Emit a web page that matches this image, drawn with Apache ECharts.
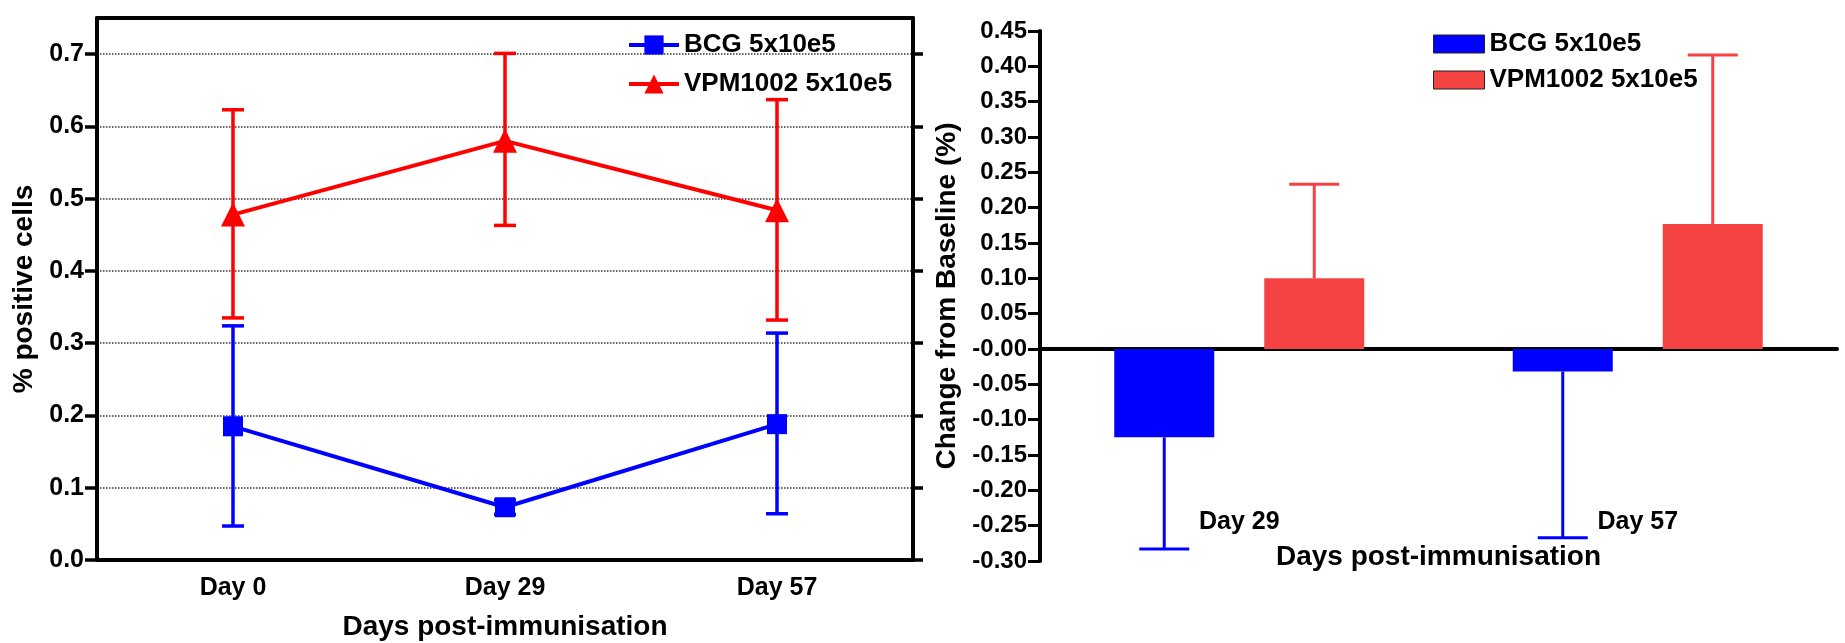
<!DOCTYPE html>
<html><head><meta charset="utf-8">
<script src="https://cdn.jsdelivr.net/npm/echarts@6/dist/echarts.min.js"></script>
<style>html,body{margin:0;padding:0;background:#fff}#c{width:1845px;height:643px}</style>
</head><body><div id="c"></div>
<script>
// ---- data: left panel (line chart with error bars) ----
const lineCategories = ['Day 0', 'Day 29', 'Day 57'];
const bcgMean = [0.185, 0.073, 0.188];
const bcgLow  = [0.047, 0.063, 0.064];
const bcgHigh = [0.324, 0.083, 0.314];
const vpmMean = [0.478, 0.580, 0.484];
const vpmLow  = [0.335, 0.463, 0.332];
const vpmHigh = [0.623, 0.701, 0.637];
const leftTickValues = [0, 0.1, 0.2, 0.3, 0.4, 0.5, 0.6, 0.7];

// ---- data: right panel (bar chart, change from baseline) ----
const barCategories = ['Day 29', 'Day 57'];
const bcgChange    = [-0.125, -0.032];
const bcgChangeErr = [0.158, 0.235];
const vpmChange    = [0.100, 0.177];
const vpmChangeErr = [0.133, 0.239];

const seriesNames = ['BCG 5x10e5', 'VPM1002 5x10e5'];

// ---- styles ----
const FONT = "'Liberation Sans', Arial, Helvetica, sans-serif";
const BLUE = '#0000FF', RED = '#FF0000', BAR_RED = '#F54343';
const BAR_W = 100, BAR_GAP = 0.5;
const txt = (size) => ({ fontSize: size, fontWeight: 'bold', color: '#000', fontFamily: FONT });
const axisLineStyle = { color: '#000', width: 4 };

function leftErr(color) {
  return function (params, api) {
    const i = api.value(0);
    const pLo = api.coord([i, api.value(1)]);
    const pHi = api.coord([i, api.value(2)]);
    const hw = 11;
    const st = { stroke: color, lineWidth: 3.5 };
    return { type: 'group', children: [
      { type: 'line', shape: { x1: pLo[0], y1: pLo[1], x2: pHi[0], y2: pHi[1] }, style: st },
      { type: 'line', shape: { x1: pLo[0] - hw, y1: pLo[1], x2: pLo[0] + hw, y2: pLo[1] }, style: st },
      { type: 'line', shape: { x1: pHi[0] - hw, y1: pHi[1], x2: pHi[0] + hw, y2: pHi[1] }, style: st }
    ]};
  };
}
function barErr(color, side) {
  return function (params, api) {
    const i = api.value(0);
    const off = side * (BAR_W + BAR_W * BAR_GAP) / 2;
    const pA = api.coord([i, api.value(1)]);
    const pB = api.coord([i, api.value(2)]);
    const x = pA[0] + off;
    const hw = BAR_W / 4;
    const st = { stroke: color, lineWidth: 3 };
    return { type: 'group', children: [
      { type: 'line', shape: { x1: x, y1: pA[1], x2: x, y2: pB[1] }, style: st },
      { type: 'line', shape: { x1: x - hw, y1: pB[1], x2: x + hw, y2: pB[1] }, style: st }
    ]};
  };
}

const chart = echarts.init(document.getElementById('c'), null, { renderer: 'canvas' });
chart.setOption({
  animation: false,
  backgroundColor: '#fff',
  grid: [
    { left: 97, right: 932, top: 18, bottom: 83, outerBoundsMode: 'none' },
    { left: 1040, right: 8, top: 31, bottom: 82, outerBoundsMode: 'none' }
  ],
  legend: [
    { left: 622, top: 27, orient: 'vertical', itemWidth: 50, itemHeight: 24, itemGap: 13,
      selectedMode: false, textStyle: txt(26),
      lineStyle: { width: 4 },
      data: [{ name: seriesNames[0] }, { name: seriesNames[1] }] },
    { left: 1428, top: 26, orient: 'vertical', itemWidth: 51, itemHeight: 18, itemGap: 10,
      selectedMode: false, textStyle: txt(26),
      data: [
        { name: seriesNames[0], icon: 'rect', itemStyle: { color: BLUE, borderColor: '#222', borderWidth: 1 } },
        { name: seriesNames[1], icon: 'rect', itemStyle: { color: BAR_RED, borderColor: '#222', borderWidth: 1 } }
      ] }
  ],
  xAxis: [
    { gridIndex: 0, type: 'category', data: lineCategories, position: 'bottom',
      axisLine: { onZero: false, lineStyle: axisLineStyle },
      axisTick: { alignWithLabel: true, length: 11, lineStyle: { color: '#000', width: 4 } },
      axisLabel: Object.assign({ margin: 16 }, txt(25)),
      splitLine: { show: false },
      name: 'Days post-immunisation', nameLocation: 'middle', nameGap: 53, nameMoveOverlap: false,
      nameTextStyle: txt(28) },
    { gridIndex: 0, type: 'category', data: lineCategories, position: 'top',
      axisLine: { onZero: false, lineStyle: axisLineStyle },
      axisTick: { alignWithLabel: true, length: 10, lineStyle: { color: '#000', width: 4 } },
      axisLabel: { show: false }, splitLine: { show: false } },
    { gridIndex: 1, type: 'category', data: barCategories,
      axisLine: { onZero: true, lineStyle: axisLineStyle },
      axisTick: { alignWithLabel: true, length: 9, lineStyle: { color: '#000', width: 3 } },
      axisLabel: { show: false },
      splitLine: { show: false } },
    { gridIndex: 1, type: 'category', data: barCategories, position: 'bottom',
      axisLine: { show: false, onZero: false },
      axisTick: { show: false },
      axisLabel: Object.assign({ inside: true, margin: 26 }, txt(25)),
      splitLine: { show: false },
      name: 'Days post-immunisation', nameLocation: 'middle', nameGap: -18, nameMoveOverlap: false,
      nameTextStyle: txt(28) }
  ],
  yAxis: [
    { gridIndex: 0, type: 'value', min: 0, max: 0.75, interval: 0.1,
      axisLine: { show: true, lineStyle: axisLineStyle },
      axisTick: { show: true, length: 12, customValues: leftTickValues, lineStyle: { color: '#000', width: 3.5 } },
      axisLabel: Object.assign({ margin: 13, customValues: leftTickValues, formatter: v => v.toFixed(1) }, txt(25)),
      splitLine: { show: true, lineStyle: { type: 'dotted', color: '#333', width: 1.5 } },
      name: '% positive cells', nameLocation: 'middle', nameGap: 59, nameMoveOverlap: false,
      nameTextStyle: txt(28) },
    { gridIndex: 0, type: 'value', position: 'right', min: 0, max: 0.75, interval: 0.1,
      axisLine: { show: true, onZero: false, lineStyle: axisLineStyle },
      axisTick: { show: true, length: 10, customValues: leftTickValues, lineStyle: { color: '#000', width: 3.5 } },
      axisLabel: { show: false }, splitLine: { show: false } },
    { gridIndex: 1, type: 'value', min: -0.3, max: 0.45, interval: 0.05,
      axisLine: { show: true, onZero: false, lineStyle: axisLineStyle },
      axisTick: { show: true, length: 12, lineStyle: { color: '#000', width: 3 } },
      axisLabel: Object.assign({ margin: 13, formatter: v => Math.abs(v) < 1e-9 ? '-0.00' : v.toFixed(2) }, txt(24)),
      splitLine: { show: false },
      name: 'Change from Baseline (%)', nameLocation: 'middle', nameGap: 79, nameMoveOverlap: false,
      nameTextStyle: txt(28) }
  ],
  series: [
    { name: seriesNames[0], type: 'line', xAxisIndex: 0, yAxisIndex: 0, data: bcgMean,
      symbol: 'rect', symbolSize: 20, color: BLUE, itemStyle: { color: BLUE },
      lineStyle: { color: BLUE, width: 4 }, z: 4 },
    { name: seriesNames[1], type: 'line', xAxisIndex: 0, yAxisIndex: 0, data: vpmMean,
      symbol: 'triangle', symbolSize: 24, color: RED, itemStyle: { color: RED },
      lineStyle: { color: RED, width: 4 }, z: 4 },
    { type: 'custom', xAxisIndex: 0, yAxisIndex: 0, silent: true, z: 3,
      data: lineCategories.map((c, i) => [i, bcgLow[i], bcgHigh[i]]),
      encode: { x: 0, y: [1, 2] }, renderItem: leftErr(BLUE) },
    { type: 'custom', xAxisIndex: 0, yAxisIndex: 0, silent: true, z: 3,
      data: lineCategories.map((c, i) => [i, vpmLow[i], vpmHigh[i]]),
      encode: { x: 0, y: [1, 2] }, renderItem: leftErr(RED) },
    { name: seriesNames[0], type: 'bar', xAxisIndex: 2, yAxisIndex: 2, data: bcgChange,
      barWidth: BAR_W, barGap: (BAR_GAP * 100) + '%', color: BLUE, itemStyle: { color: BLUE } },
    { name: seriesNames[1], type: 'bar', xAxisIndex: 2, yAxisIndex: 2, data: vpmChange,
      barWidth: BAR_W, barGap: (BAR_GAP * 100) + '%', color: BAR_RED, itemStyle: { color: BAR_RED } },
    { type: 'custom', xAxisIndex: 2, yAxisIndex: 2, silent: true, z: 3,
      data: barCategories.map((c, i) => [i, bcgChange[i], bcgChange[i] - bcgChangeErr[i]]),
      encode: { x: 0, y: [1, 2] }, renderItem: barErr(BLUE, -1) },
    { type: 'custom', xAxisIndex: 2, yAxisIndex: 2, silent: true, z: 3,
      data: barCategories.map((c, i) => [i, vpmChange[i], vpmChange[i] + vpmChangeErr[i]]),
      encode: { x: 0, y: [1, 2] }, renderItem: barErr(BAR_RED, 1) }
  ]
});
</script></body></html>
